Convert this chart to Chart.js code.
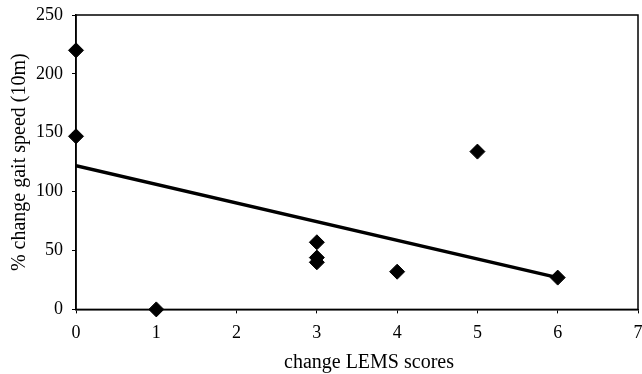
<!DOCTYPE html>
<html>
<head>
<meta charset="utf-8">
<script src="https://cdn.jsdelivr.net/npm/chart.js@4"></script>
<style>
  html, body { margin: 0; padding: 0; background: #fff; }
  #wrap { width: 642px; height: 374px; }
</style>
</head>
<body>
<div id="wrap"><canvas id="chart"></canvas></div>
<script>
// ── Data ──────────────────────────────────────────────────────────
const lemsChange  = [0, 0, 1, 3, 3, 3, 4, 5, 6]
const gaitChange  = [220, 147, 0, 57, 44, 40, 32, 134, 27]
const trendX      = [0, 6]
const trendY      = [122, 27]
const xTicks      = [0, 1, 2, 3, 4, 5, 6, 7]
const yTicks      = [0, 50, 100, 150, 200, 250]
const xTitle      = "change LEMS scores"
const yTitle      = "% change gait speed (10m)"

const serif = "'Liberation Serif', 'Times New Roman', serif"

// full frame round the plot area, plus the x title (sits a bit right of centre)
const frame = {
  id: "frame",
  afterDraw(chart) {
    const { ctx, chartArea: a } = chart
    ctx.save()
    ctx.strokeStyle = "#000"
    ctx.lineWidth = 1.5
    ctx.strokeRect(a.left, a.top, a.right - a.left, a.bottom - a.top)

    ctx.fillStyle = "#000"
    ctx.font = `20px ${serif}`
    ctx.textAlign = "center"
    ctx.textBaseline = "middle"
    ctx.fillText(xTitle, (a.left + a.right) / 2 + 12, a.bottom + 53)
    ctx.restore()
  }
}

new Chart(document.getElementById("chart"), {
  type: "scatter",
  data: {
    datasets: [
      {
        label: "trend",
        type: "line",
        data: trendX.map((x, i) => ({ x, y: trendY[i] })),
        borderColor: "#000",
        borderWidth: 3.5,
        pointRadius: 0,
        fill: false,
        order: 2,
      },
      {
        label: "subjects",
        data: lemsChange.map((x, i) => ({ x, y: gaitChange[i] })),
        pointStyle: "rectRot",
        pointRadius: 7.5,
        pointBackgroundColor: "#000",
        pointBorderColor: "#000",
        borderWidth: 1,
        order: 1,
        clip: false,
      }
    ]
  },
  options: {
    responsive: true,
    maintainAspectRatio: false,
    animation: false,
    layout: { autoPadding: false, padding: { top: 15, right: 4, left: 8, bottom: 21 } },
    plugins: {
      legend: { display: false },
      tooltip: { enabled: false }
    },
    scales: {
      x: {
        type: "linear",
        min: 0, max: 7,
        afterBuildTicks: ax => { ax.ticks = xTicks.map(v => ({ value: v })) },
        // the "7" hangs off the right edge in the original
        afterFit: ax => { ax.paddingRight = 0; ax.paddingLeft = 0 },
        ticks: { color: "#000", font: { family: serif, size: 18 }, padding: 9 },
        grid: { drawOnChartArea: false, tickLength: 4, color: "#000" },
        border: { color: "#000", width: 1.5 },
        title: { display: false }
      },
      y: {
        min: 0, max: 250,
        afterBuildTicks: ax => { ax.ticks = yTicks.map(v => ({ value: v })) },
        afterFit: ax => { ax.paddingTop = 0; ax.paddingBottom = 0 },
        ticks: { color: "#000", font: { family: serif, size: 18 }, padding: 9 },
        grid: { drawOnChartArea: false, tickLength: 4, color: "#000" },
        border: { color: "#000", width: 1.5 },
        title: {
          display: true,
          text: yTitle,
          color: "#000",
          font: { family: serif, size: 20 },
          padding: { top: 0, bottom: -5 }
        }
      }
    }
  },
  plugins: [frame]
})
</script>
</body>
</html>
